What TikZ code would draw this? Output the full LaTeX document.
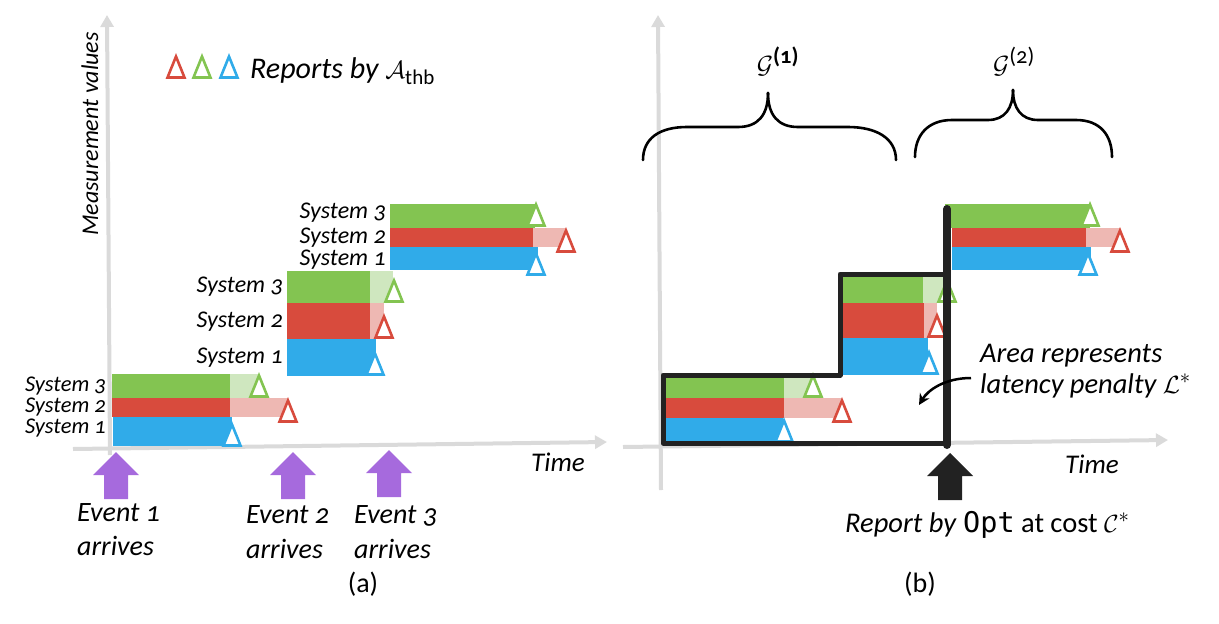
\documentclass[tikz,border=0pt]{standalone}
\usepackage{amsmath}
\usepackage{fontspec}
\setmainfont{Carlito}[Numbers=OldStyle]
\setmonofont{DejaVu Sans Mono}
\usetikzlibrary{arrows.meta}
\definecolor{gC}{HTML}{83C451}
\definecolor{rC}{HTML}{D84B3D}
\definecolor{bC}{HTML}{30ABE9}
\definecolor{lgC}{HTML}{CFE7BF}
\definecolor{lrC}{HTML}{EEB8B3}
\definecolor{axC}{HTML}{DADADA}
\definecolor{pC}{HTML}{A66ADD}
\definecolor{kC}{HTML}{222222}
\begin{document}
\begin{tikzpicture}[x=1pt,y=-1pt,
  axisline/.style={draw=axC, line width=4pt, -{Triangle[width=13pt,length=12pt]}},
  lbl/.style={font=\fontsize{24}{28}\selectfont\itshape, inner sep=0pt, text height=13pt, text depth=3pt},
  lblsm/.style={font=\fontsize{22.5}{26}\selectfont\itshape, inner sep=0pt, text height=12pt, text depth=3pt},
  evlbl/.style={font=\fontsize{28}{32}\selectfont\itshape, inner sep=0pt, anchor=base west},
  txt/.style={inner sep=0pt},
  tri/.pic={\draw[line width=2.6pt, fill=white, line join=miter] (-8.5,-1.5) -- (0,-22.5) -- (8.5,-1.5) -- cycle;},
  bigarrow/.pic={\fill (-23,23) -- (0,0) -- (23,23) -- (12,23) -- (12,47) -- (-12,47) -- (-12,23) -- cycle;},
  bracepath/.style={line width=2.6pt, line cap=round}
]
\useasboundingbox (0,0) rectangle (1219,624);

% ---------------- axes (a)
\draw[axisline] (110,455) -- (107,15);
\draw[axisline] (73,449) -- (607,442);
% ---------------- axes (b)
\draw[axisline] (661,490) -- (658,15);
\draw[axisline] (623,447) -- (1168,440);

% ---------------- legend
\pic[color=rC] at (176,79) {tri};
\pic[color=gC] at (202,79) {tri};
\pic[color=bC] at (229,79) {tri};
\node[txt, anchor=base west, font=\fontsize{30}{34}\selectfont\itshape] (leg) at (250,78) {Reports by $\mathcal{A}_{\text{\upshape thb}}$};
\node[txt, rotate=90, anchor=base, font=\fontsize{24}{28}\selectfont\itshape] (ylab) at (98,134) {Measurement values};

% ---------------- (a) group 1
\fill[lgC] (230,374) rectangle (259,398);
\fill[gC] (112,374) rectangle (230,398);
\fill[lrC] (230,398) rectangle (288,417);
\fill[rC] (112,398) rectangle (230,417);
\fill[bC] (113,417) rectangle (232,446);
\pic[color=gC] at (259,398) {tri};
\pic[color=rC] at (288,423) {tri};
\pic[color=bC] at (232,447) {tri};
\node[lblsm, anchor=base east] (a13) at (106,391) {System 3};
\node[lblsm, anchor=base east] (a12) at (106,412) {System 2};
\node[lblsm, anchor=base east] (a11) at (106,433) {System 1};

% ---------------- (a) group 2
\fill[lgC] (370,271) rectangle (393,303);
\fill[gC] (287,271) rectangle (370,303);
\fill[lrC] (370,303) rectangle (384,339);
\fill[rC] (287,303) rectangle (370,339);
\fill[bC] (287,339) rectangle (376,376);
\pic[color=gC] at (394,303) {tri};
\pic[color=rC] at (384,339) {tri};
\pic[color=bC] at (375,376) {tri};
\node[lbl, anchor=base east] (a23) at (283,292) {System 3};
\node[lbl, anchor=base east] (a22) at (283,327) {System 2};
\node[lbl, anchor=base east] (a21) at (283,363) {System 1};

% ---------------- (a) group 3
\fill[gC] (390,204) rectangle (535,228);
\fill[lrC] (533,228) rectangle (566,247);
\fill[rC] (390,228) rectangle (533,247);
\fill[bC] (390,247) rectangle (538,270);
\pic[color=gC] at (536,227) {tri};
\pic[color=rC] at (566,253) {tri};
\pic[color=bC] at (536,276) {tri};
\node[lbl, anchor=base east] (a33) at (386,218) {System 3};
\node[lbl, anchor=base east] (a32) at (386,243) {System 2};
\node[lbl, anchor=base east] (a31) at (386,265) {System 1};

% ---------------- (a) events
\pic[color=pC] at (116,452) {bigarrow};
\pic[color=pC] at (293,452) {bigarrow};
\pic[color=pC] at (389,450) {bigarrow};
\node[evlbl] (e1a) at (77,521) {Event 1};
\node[evlbl] (e1b) at (77,555) {arrives};
\node[evlbl] (e2a) at (246,523) {Event 2};
\node[evlbl] (e2b) at (246,558) {arrives};
\node[evlbl] (e3a) at (354,523) {Event 3};
\node[evlbl] (e3b) at (354,558) {arrives};
\node[txt, anchor=base, font=\fontsize{27}{30}\selectfont\itshape] (timeA) at (558,471) {Time};
\node[txt, anchor=base, font=\fontsize{28}{32}\selectfont] (capA) at (363,592) {(a)};

% ---------------- (b) group 1
\fill[lgC] (784,378) rectangle (812,398);
\fill[gC] (665,378) rectangle (784,398);
\fill[lrC] (784,398) rectangle (842,418);
\fill[rC] (665,398) rectangle (784,418);
\fill[bC] (665,418) rectangle (783,441);
\pic[color=gC] at (813,398) {tri};
\pic[color=rC] at (842,423) {tri};
\pic[color=bC] at (784,443) {tri};

% ---------------- (b) group 2
\fill[lgC] (923,277) rectangle (945,303);
\fill[gC] (843,277) rectangle (923,303);
\fill[lrC] (924,303) rectangle (937,338);
\fill[rC] (843,303) rectangle (924,338);
\fill[bC] (843,338) rectangle (928,375);
\pic[color=gC] at (947,303) {tri};
\pic[color=rC] at (937,338) {tri};
\pic[color=bC] at (929,375) {tri};

% ---------------- (b) group 3
\fill[gC] (945,204) rectangle (1090,228);
\fill[lrC] (1086,228) rectangle (1120,247);
\fill[rC] (952,228) rectangle (1086,247);
\fill[bC] (952,247) rectangle (1091,270);
\pic[color=gC] at (1090,227) {tri};
\pic[color=rC] at (1120,253) {tri};
\pic[color=bC] at (1088,276) {tri};

% ---------------- OPT outline
\draw[kC, line width=5pt, line join=round] (947,274) -- (840,274) -- (840,375) -- (663,375) -- (663,443) -- (947,443);
\draw[kC, line width=8pt, line cap=round] (947,209) -- (947,445);

% ---------------- braces
\draw[bracepath] (643,160) .. controls (643,138) and (660,127) .. (687,127) -- (738,127) .. controls (758,127) and (768,115) .. (768,93);
\draw[bracepath] (768,93) .. controls (768,115) and (778,127) .. (798,127) -- (848,127) .. controls (876,127) and (896,138) .. (896,160);
\draw[bracepath] (915,157) .. controls (915,135) and (928,120) .. (952,120) -- (988,120) .. controls (1005,120) and (1013,108) .. (1013,90);
\draw[bracepath] (1013,90) .. controls (1013,108) and (1021,120) .. (1038,120) -- (1076,120) .. controls (1100,120) and (1112,135) .. (1112,157);
\node[txt, anchor=base, font=\fontsize{32}{36}\selectfont] (g1) at (778,73) {$\mathcal{G}^{\text{\bfseries(1)}}$};
\node[txt, anchor=base, font=\fontsize{32}{36}\selectfont] (g2) at (1014,73) {$\mathcal{G}^{\text{(2)}}$};

% ---------------- (b) annotations
\node[txt, anchor=base west, font=\fontsize{28.5}{32}\selectfont\itshape] (area1) at (980,362) {Area represents};
\node[txt, anchor=base west, font=\fontsize{28.5}{32}\selectfont\itshape] (area2) at (980,393) {latency penalty $\mathcal{L}^*$};
\coordinate (arS) at (971,378);
\coordinate (arE) at (919,405);
\draw[line width=2.5pt, -{Stealth[length=11pt,width=11pt]}] (arS) .. controls (945,378) and (928,390) .. (arE);
\pic[color=kC] at (950,453) {bigarrow};
\node[txt, anchor=base west, font=\fontsize{28.5}{32}\selectfont] (rep) at (845,532) {\itshape Report by \upshape\texttt{Opt} at cost $\mathcal{C}^*$};
\node[txt, anchor=base, font=\fontsize{27}{30}\selectfont\itshape] (timeB) at (1092,473) {Time};
\node[txt, anchor=base, font=\fontsize{28}{32}\selectfont] (capB) at (920,592) {(b)};
\end{tikzpicture}
\end{document}
